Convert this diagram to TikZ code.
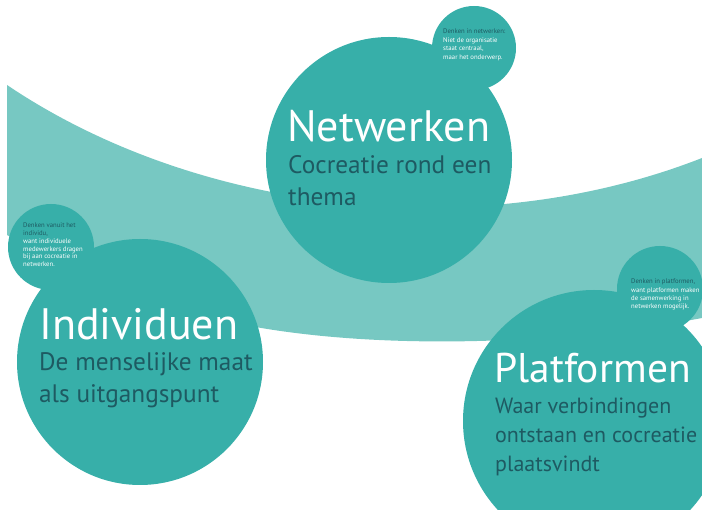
\documentclass[tikz,border=0pt]{standalone}
\usepackage{fontspec}
\setmainfont{PT Sans}
\definecolor{circ}{HTML}{37AFA9}
\definecolor{band}{HTML}{77C8C2}
\definecolor{darktxt}{HTML}{1E5A62}
\tikzset{
  bigcirc/.style={fill=circ, draw=none},
  title/.style={anchor=base west, inner sep=0pt, text=white, font=\fontsize{#1}{#1}\selectfont},
  subtitle/.style 2 args={anchor=north west, inner sep=0pt, align=left, text=darktxt, font=\fontsize{#1}{#2}\selectfont},
  note/.style={anchor=north west, inner sep=0pt, align=left, text=white, font=\fontsize{6.7}{#1}\selectfont},
}
\begin{document}
\begin{tikzpicture}[x=1pt,y=-1pt]
\useasboundingbox (0,0) rectangle (702,510);
% band
\fill[band] (7,85) .. controls (200,215) and (480,245) .. (702,158)
  -- (702,318) .. controls (560,345) and (380,350) .. (250,326)
  .. controls (150,305) and (50,260) .. (7,235) -- cycle;
% circles
\fill[bigcirc] (389,160) circle[radius=123];
\fill[bigcirc] (474,48) circle[radius=42];
\fill[bigcirc] (140,362) circle[radius=123];
\fill[bigcirc] (51,247) circle[radius=43];
\fill[bigcirc] (594,421) circle[radius=131];
\fill[bigcirc] (660,289) circle[radius=43];
% Netwerken
\node[title=44] (nt) at (287,142) {Netwerken};
\node[subtitle={25.3}{32}] (ns) at (288,155) {Cocreatie rond een\\thema};
\node[note=8.5] (nn) at (443,29) {\textcolor{darktxt}{Denken in netwerken:}\\Niet de organisatie\\staat centraal,\\maar het onderwerp.};
% Individuen
\node[title=44] (it) at (39,340) {Individuen};
\node[subtitle={25.3}{32}] (is) at (39,352) {De menselijke maat\\als uitgangspunt};
\node[note=7.7] (in) at (23,223) {\textcolor{darktxt}{Denken vanuit het}\\\textcolor{darktxt}{individu,}\\want individuele\\medewerkers dragen\\bij aan cocreatie in\\netwerken.};
% Platformen
\node[title=41.5] (pt) at (494,383) {Platformen};
\node[subtitle={22}{28.8}] (ps) at (495,398) {Waar verbindingen\\ontstaan en cocreatie\\plaatsvindt};
\node[note=8.3] (pn) at (631,279) {\textcolor{darktxt}{Denken in platformen,}\\want platformen maken\\de samenwerking in\\netwerken mogelijk.};
\end{tikzpicture}
\end{document}
